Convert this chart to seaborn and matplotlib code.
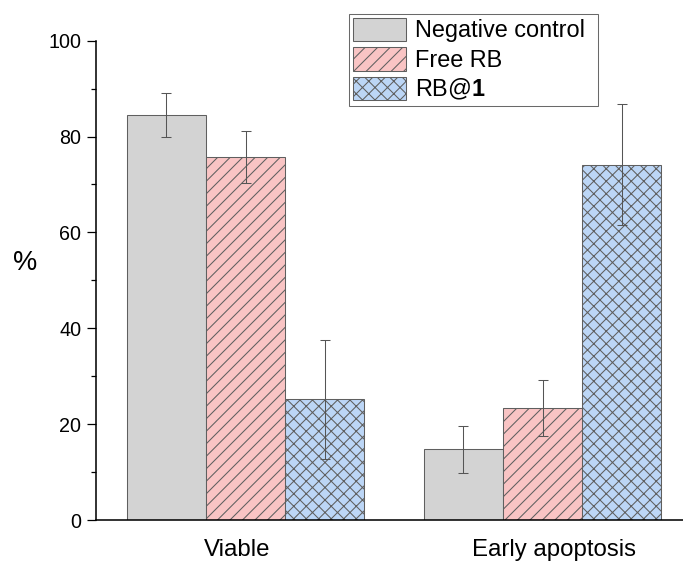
import numpy as np
import pandas as pd
import seaborn as sns
import matplotlib
matplotlib.use('Agg')
from matplotlib import pyplot as plt
from matplotlib.ticker import MultipleLocator

categories = ['Viable', 'Early apoptosis']
groups = ['Negative control', 'Free RB', 'RB@1']
neg_mean = [84.5, 14.8]
neg_sd = [4.5, 4.9]
free_mean = [75.8, 23.4]
free_sd = [5.4, 5.9]
rb1_mean = [25.2, 74.1]
rb1_sd = [12.4, 12.6]

colors = ['#d3d3d3', '#f9c4c4', '#bcd6f6']
hatches = ['', '//', 'xx']

df = pd.DataFrame({
    'cat': categories * 3,
    'grp': [g for g in groups for _ in categories],
    'val': neg_mean + free_mean + rb1_mean,
    'sd': neg_sd + free_sd + rb1_sd,
})

sns.set_style('ticks')
plt.rcParams['font.family'] = ['Liberation Sans', 'DejaVu Sans']
plt.rcParams['mathtext.fontset'] = 'custom'
plt.rcParams['mathtext.rm'] = 'Liberation Sans'
plt.rcParams['mathtext.bf'] = 'Liberation Sans:bold'
plt.rcParams['hatch.linewidth'] = 1.0
for k in ['text.color', 'axes.labelcolor', 'xtick.labelcolor', 'ytick.labelcolor']:
    plt.rcParams[k] = 'black'

fig = plt.figure(figsize=(683 / 75, 563 / 75), dpi=75)
ax = fig.add_axes([96 / 683, 1 - 520 / 563, 1 - 96 / 683, (520 - 40.7) / 563])

sns.barplot(data=df, x='cat', y='val', hue='grp', order=categories, hue_order=groups,
            palette=dict(zip(groups, colors)), errorbar=None, width=0.8,
            edgecolor='#5f5f5f', linewidth=1.0, saturation=1, legend=False, ax=ax)

bars = list(ax.containers)
for cont, h, g in zip(bars, hatches, groups):
    sub = df[df['grp'] == g].set_index('cat').loc[categories]
    xs = []
    for p in cont.patches:
        p.set_hatch(h)
        xs.append(p.get_x() + p.get_width() / 2)
    ax.errorbar(xs, sub['val'].values, yerr=sub['sd'].values, fmt='none',
                ecolor='#555555', elinewidth=1.0, capsize=4.5, capthick=1.0, zorder=5)

ax.set_ylim(0, 100)
ax.set_xlim(-0.504, 1.473)
ax.set_xticks([-0.03, 1.04], categories)
ax.yaxis.set_major_locator(MultipleLocator(20))
ax.yaxis.set_minor_locator(MultipleLocator(10))
ax.tick_params(axis='y', which='major', length=8.5, width=1.2, labelsize=19, pad=5.5, color='black')
ax.tick_params(axis='y', which='minor', length=4.5, width=1.2, color='black')
ax.tick_params(axis='x', length=0, labelsize=23, pad=18)
sns.despine(ax=ax)
for s in ['left', 'bottom']:
    ax.spines[s].set_linewidth(1.5)
    ax.spines[s].set_color('black')
ax.set_xlabel('')
ax.set_ylabel('%', rotation=0, fontsize=26, ha='center', va='center')
ax.yaxis.set_label_coords((25 - 96) / 587, (520 - 263) / 479.3)

handles = [c.patches[0] for c in bars]
labels = ['Negative control', 'Free RB', r'RB@$\mathbf{1}$']
leg = ax.legend(handles, labels, loc='upper left',
                bbox_to_anchor=(349 / 683, 1 - 111 / 563, 249 / 683, 97 / 563), mode='expand',
                bbox_transform=fig.transFigure, fontsize=22.5, frameon=True, fancybox=False,
                edgecolor='#444444', borderpad=0.15, labelspacing=0.22, handlelength=2.3,
                handleheight=1.15, handletextpad=0.38, borderaxespad=0)
leg.get_frame().set_linewidth(1.0)

fig.savefig('out.png', dpi=75)
